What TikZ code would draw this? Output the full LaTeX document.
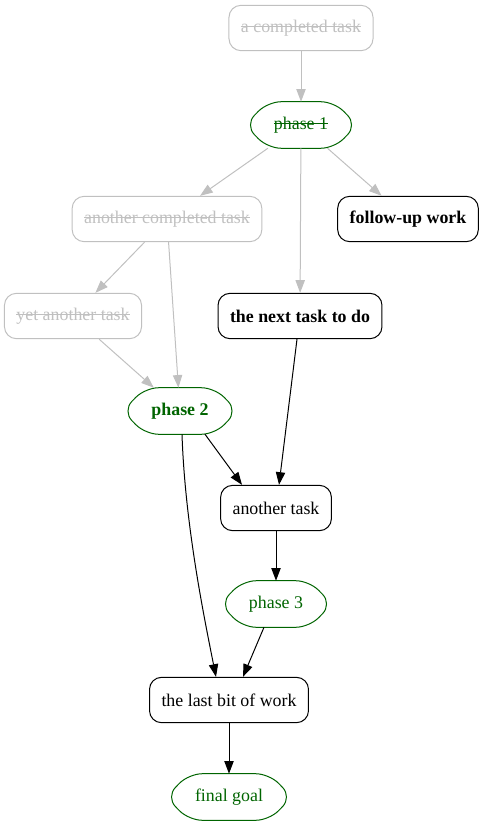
\documentclass[tikz,border=0pt]{standalone}
\usepackage{fontspec}
\setmainfont{Liberation Serif}
\usetikzlibrary{arrows.meta}
\definecolor{donegray}{RGB}{192,192,192}
\definecolor{phasegreen}{RGB}{0,100,0}
% Testo barrato
\newcommand{\strikeout}[1]{\setbox0\hbox{#1}\rlap{\rule[0.3em]{\wd0}{0.75pt}}\box0}
% Contorno esagonale arrotondato delle fasi
\newcommand{\phaseoutline}[1]{%
  \draw[phaseline] (#1.north) -- ([xshift=-17pt]#1.north east) -- (#1.east)
    -- ([xshift=-17pt]#1.south east) -- ([xshift=17pt]#1.south west) -- (#1.west)
    -- ([xshift=17pt]#1.north west) -- cycle;}

\begin{document}
\begin{tikzpicture}[x=0.75pt, y=-0.75pt, >={Triangle[length=9.5pt,width=7pt]}]
% Stili dei nodi
\tikzset{task/.style={draw, rounded corners=9pt, line width=0.75pt, minimum height=34pt,
                      inner xsep=9pt, font=\fontsize{13.4}{16}\selectfont},
         done/.style={task, draw=donegray, text=donegray},
         phase/.style={text=phasegreen, inner xsep=21.5pt, minimum height=34.5pt,
                       font=\fontsize{13.4}{16}\selectfont},
         phaseline/.style={phasegreen, line width=0.75pt, rounded corners=10pt},
         edge/.style={->, line width=0.75pt},
         doneedge/.style={edge, donegray}}

\useasboundingbox (0,0) rectangle (484,827);

% --- NODI ---
\node[done] (acomp) at (301,28) {\strikeout{a completed task}};
\node[phase] (ph1) at (301,125) {\strikeout{phase 1}};
\node[done] (ancomp) at (167,219) {\strikeout{another completed task}};
\node[task, font=\fontsize{13.4}{16}\selectfont\bfseries] (follow) at (408,219) {follow-up work};
\node[done] (yet) at (73,316) {\strikeout{yet another task}};
\node[task, font=\fontsize{13.4}{16}\selectfont\bfseries] (next) at (300,316) {the next task to do};
\node[phase, font=\fontsize{13.4}{16}\selectfont\bfseries] (ph2) at (180,411) {phase 2};
\node[task] (antask) at (276,508) {another task};
\node[phase] (ph3) at (276,604) {phase 3};
\node[task] (last) at (229,700) {the last bit of work};
\node[phase] (goal) at (229,797) {final goal};

\phaseoutline{ph1}
\phaseoutline{ph2}
\phaseoutline{ph3}
\phaseoutline{goal}

% --- ARCHI COMPLETATI ---
\draw[doneedge] (acomp) -- (ph1);
\draw[doneedge] (ph1) -- (ancomp);
\draw[doneedge] (ph1) -- (follow);
\draw[doneedge] (ph1) -- (next);
\draw[doneedge] (ancomp) -- (yet);
\draw[doneedge] (ancomp) -- (ph2);
\draw[doneedge] (yet) -- (ph2);

% --- ARCHI DA FARE ---
\draw[edge] ([xshift=-2.25pt]next.south) -- ([xshift=2.25pt]antask.north);
\draw[edge] ([xshift=18.75pt]ph2.south) -- ([xshift=-25.5pt]antask.north);
\draw[edge] ([xshift=1.5pt]ph2.south) .. controls +(3,90) and +(-12,-60) .. ([xshift=-9.75pt]last.north);
\draw[edge] (antask) -- (ph3);
\draw[edge] ([xshift=-9pt]ph3.south) -- ([xshift=10.5pt]last.north);
\draw[edge] (last) -- (goal);

\end{tikzpicture}
\end{document}
